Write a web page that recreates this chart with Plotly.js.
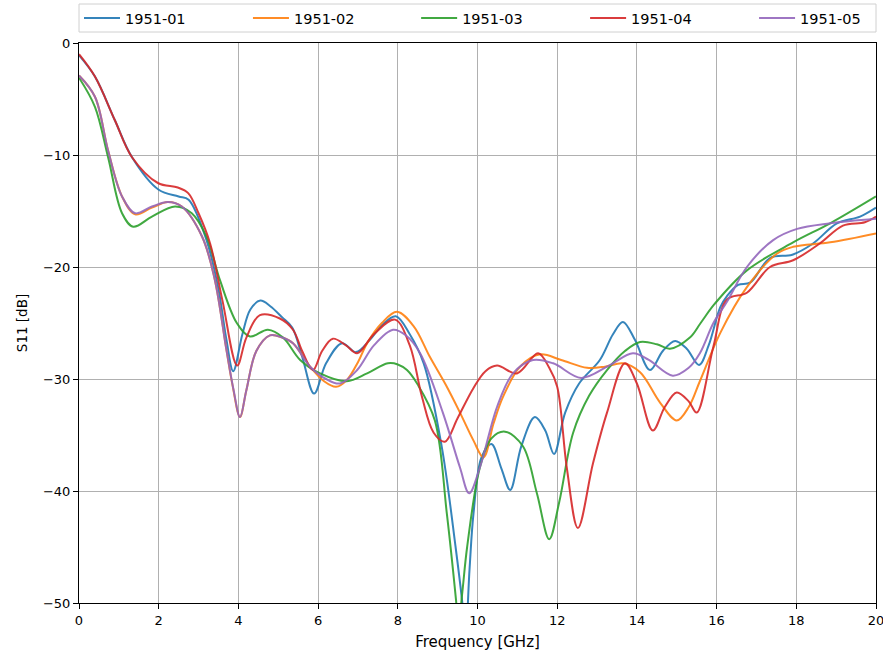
<!DOCTYPE html>
<html>
<head>
<meta charset="utf-8">
<script src="https://cdn.plot.ly/plotly-3.0.1.min.js"></script>
<style>html,body{margin:0;padding:0;background:#fff;}#chart{width:883px;height:654px;}</style>
</head>
<body>
<div id="chart"></div>
<script>
const seriesNames = ["1951-01", "1951-02", "1951-03", "1951-04", "1951-05"];
const seriesColors = ["#1f77b4", "#ff7f0e", "#2ca02c", "#d62728", "#9467bd"];

const freq1 = [0,0.4,0.9,1.33,2.0,2.5,2.75,3.2,3.5,3.7,3.87,4.1,4.3,4.55,4.8,5.1,5.35,5.6,5.9,6.2,6.6,6.95,7.3,7.6,7.95,8.3,8.65,9.1,9.45,9.62,9.7,9.8,9.9,10.1,10.35,10.6,10.82,11.1,11.44,11.7,11.92,12.2,12.55,13.07,13.4,13.65,13.95,14.33,14.65,14.96,15.25,15.56,15.8,16.09,16.26,16.54,16.84,17.34,17.9,18.42,19.02,19.6,20];
const s11_1 = [-1.1,-3.0,-6.9,-10.2,-13.1,-13.7,-14.0,-17.6,-22,-26.5,-29.3,-26,-23.8,-23.0,-23.5,-24.5,-25.4,-28,-31.3,-28.6,-26.8,-27.6,-26.5,-25.2,-24.4,-26,-28.6,-36,-45,-50,-53,-47,-42,-37,-35.8,-38,-39.9,-36,-33.4,-34.6,-36.7,-33,-30.4,-28.3,-26,-24.9,-26.5,-29.2,-27.5,-26.6,-27.3,-28.75,-27,-23.6,-22.6,-21.6,-21.4,-19.2,-18.9,-17.9,-16.1,-15.5,-14.7];

const freq2 = [0,0.4,0.73,1.08,1.41,1.83,2.23,2.58,3.09,3.4,3.7,3.85,4.04,4.2,4.45,4.79,5.1,5.37,5.8,6.15,6.45,6.72,7.0,7.23,7.6,7.98,8.4,8.8,9.2,9.56,9.9,10.15,10.4,10.64,11.07,11.57,12.1,12.75,13.2,13.65,14.08,14.58,15.0,15.3,15.58,16.09,16.76,17.52,17.92,18.85,20];
const s11_2 = [-2.9,-4.8,-9.6,-13.7,-15.3,-14.7,-14.2,-14.6,-17.3,-21,-27.4,-30.5,-33.4,-31,-27.5,-26.1,-26.3,-26.8,-28.9,-30.2,-30.7,-30.1,-28.5,-26.8,-25,-24.0,-25.3,-28.0,-30.5,-33.0,-35.5,-37,-34,-31.6,-28.9,-27.8,-28.3,-29.0,-28.9,-28.6,-29.4,-32.1,-33.7,-32.5,-30.2,-25.9,-21.8,-18.8,-18.2,-17.8,-17.0];

const freq3 = [0,0.4,0.73,1.08,1.36,1.83,2.41,2.83,3.2,3.54,3.96,4.29,4.74,5.12,5.55,6.05,6.72,7.23,7.75,8.0,8.23,8.5,8.93,9.23,9.46,9.52,9.62,9.74,10.06,10.35,10.69,11.14,11.49,11.8,12.05,12.4,12.8,13.25,13.7,14.08,14.5,14.83,15.33,15.6,15.95,16.76,17.92,18.85,20];
const s11_3 = [-3.1,-5.7,-10.2,-15.2,-16.4,-15.5,-14.6,-15.2,-17.3,-21.2,-25,-26.2,-25.6,-26.3,-28.3,-29.5,-30.2,-29.5,-28.6,-28.7,-29.2,-30.5,-33.7,-42,-49.7,-52,-49,-45,-37.9,-35.3,-34.7,-36,-40.2,-44.3,-41,-34.8,-31.5,-29.2,-27.5,-26.7,-26.9,-27.3,-26.3,-25,-23.3,-20.3,-17.8,-16.1,-13.7];

const freq4 = [0,0.4,0.9,1.33,1.98,2.48,2.74,3.0,3.29,3.6,3.97,4.2,4.54,5.04,5.37,5.6,5.87,6.1,6.37,6.7,6.98,7.4,7.93,8.3,8.6,8.9,9.18,9.5,9.9,10.2,10.49,10.99,11.52,11.8,12.0,12.24,12.52,12.9,13.25,13.7,14.0,14.4,14.7,15.0,15.3,15.5,15.92,16.26,16.76,17.34,17.92,18.59,19.17,19.72,20];
const s11_4 = [-1.0,-3.0,-6.9,-10.2,-12.5,-12.9,-13.4,-15.2,-17.9,-23,-28.8,-26.3,-24.3,-24.6,-25.6,-27.5,-29.2,-27.5,-26.4,-27,-27.7,-26,-24.7,-27,-31.5,-34.8,-35.6,-33.5,-30.8,-29.3,-28.8,-29.5,-27.7,-29,-30.7,-37.9,-43.3,-37.5,-33,-28.6,-30.4,-34.6,-32.5,-31.2,-32,-33,-27.1,-22.9,-22.3,-20.0,-19.4,-17.9,-16.3,-16.0,-15.5];

const freq5 = [0,0.4,0.73,1.08,1.41,1.83,2.23,2.58,3.09,3.4,3.7,3.88,4.04,4.2,4.45,4.79,5.1,5.37,5.8,6.2,6.55,6.98,7.4,7.88,8.2,8.56,9.13,9.56,9.79,10.06,10.49,10.89,11.39,11.9,12.6,13.3,13.9,14.3,14.9,15.3,15.58,15.92,16.26,16.76,17.42,18.02,18.85,20];
const s11_5 = [-2.9,-4.8,-9.6,-13.7,-15.2,-14.6,-14.2,-14.6,-17.3,-21,-27.4,-31,-33.4,-31,-27.5,-26.1,-26.3,-26.8,-28.9,-30,-30.4,-29.2,-27,-25.6,-26.1,-27.7,-33,-37.9,-40.2,-37.9,-32.5,-29.5,-28.3,-28.6,-29.9,-28.8,-27.7,-28.3,-29.7,-29,-27.7,-25,-23.1,-20,-17.6,-16.6,-16.1,-15.7];

const xTickVals = [0,2,4,6,8,10,12,14,16,18,20];
const yTickVals = [0,-10,-20,-30,-40,-50];

const freqs = [freq1, freq2, freq3, freq4, freq5];
const vals = [s11_1, s11_2, s11_3, s11_4, s11_5];
const legendIds = ['legend', 'legend2', 'legend3', 'legend4', 'legend5'];
const legendX = [0, 0.212, 0.423, 0.635, 0.847];

const traces = seriesNames.map((n, i) => ({
  x: freqs[i], y: vals[i], name: n, type: 'scatter', mode: 'lines',
  legend: legendIds[i],
  line: {color: seriesColors[i], width: 2, shape: 'spline', smoothing: 1},
  opacity: 0.9
}));

const tickFont = {family: 'DejaVu Sans, sans-serif', size: 13, color: '#000'};
const titleFont = {family: 'DejaVu Sans, sans-serif', size: 15, color: '#000'};
const legendFont = {family: 'DejaVu Sans, sans-serif', size: 14.5, color: '#000'};

const layout = {
  width: 883, height: 654,
  margin: {l: 79, r: 7, t: 43, b: 51, autoexpand: false},
  paper_bgcolor: '#fff', plot_bgcolor: '#fff',
  font: tickFont,
  showlegend: true,
  shapes: [{
    type: 'rect', xref: 'paper', yref: 'paper',
    x0: 0, x1: 1, y0: 1.0196, y1: 1.0696,
    line: {color: '#d0d0d0', width: 1}, fillcolor: 'rgba(255,255,255,0.8)', layer: 'below'
  }],
  xaxis: {
    range: [0, 20], tickvals: xTickVals, ticks: 'outside', ticklen: 5, tickcolor: '#000',
    ticklabeloverflow: 'allow', tickfont: tickFont,
    showgrid: true, gridcolor: '#b0b0b0', gridwidth: 1,
    showline: true, linecolor: '#000', linewidth: 1, mirror: true, zeroline: false,
    title: {text: 'Frequency [GHz]', font: titleFont, standoff: 9}
  },
  yaxis: {
    range: [-50, 0], tickvals: yTickVals, ticks: 'outside', ticklen: 5, tickcolor: '#000',
    tickfont: tickFont,
    showgrid: true, gridcolor: '#b0b0b0', gridwidth: 1,
    showline: true, linecolor: '#000', linewidth: 1, mirror: true, zeroline: false,
    title: {text: 'S11 [dB]', font: {family: 'DejaVu Sans, sans-serif', size: 13.5, color: '#000'}, standoff: 12}
  }
};

legendIds.forEach((id, i) => {
  layout[id] = {
    orientation: 'h', x: legendX[i], xanchor: 'left', y: 1.0446, yanchor: 'middle',
    borderwidth: 0, bgcolor: 'rgba(0,0,0,0)', itemwidth: 36,
    font: legendFont, visible: true
  };
});

Plotly.newPlot('chart', traces, layout, {displayModeBar: false, staticPlot: true});
</script>
</body>
</html>
